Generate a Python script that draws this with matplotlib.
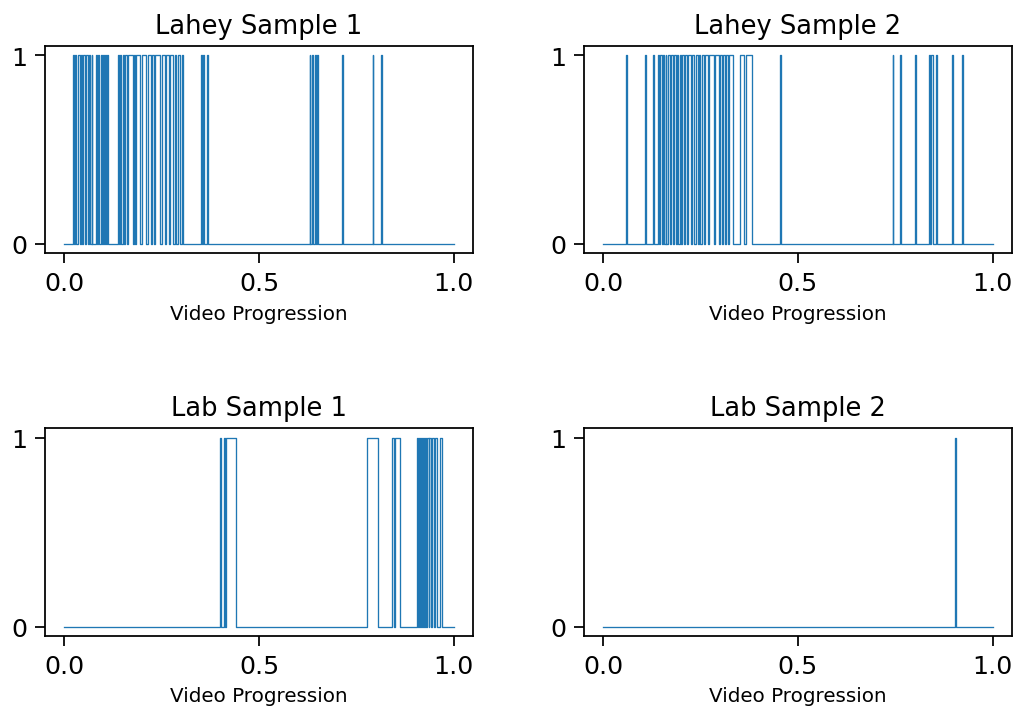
import matplotlib
matplotlib.use("Agg")
import matplotlib.pyplot as plt

# intervals (start, end) in video progression where the signal is 1
lahey1_on = [(0.022, 0.025), (0.028, 0.031), (0.036, 0.040), (0.043, 0.046), (0.049, 0.052),
             (0.055, 0.060), (0.063, 0.066), (0.070, 0.072), (0.080, 0.083), (0.087, 0.090),
             (0.093, 0.096), (0.099, 0.101), (0.103, 0.106), (0.109, 0.112), (0.137, 0.139),
             (0.143, 0.146), (0.150, 0.153), (0.156, 0.160), (0.163, 0.175), (0.178, 0.182),
             (0.185, 0.195), (0.199, 0.210), (0.214, 0.222), (0.226, 0.230), (0.234, 0.246),
             (0.250, 0.258), (0.262, 0.268), (0.272, 0.279), (0.284, 0.287), (0.293, 0.296),
             (0.302, 0.304), (0.350, 0.353), (0.356, 0.358), (0.367, 0.370), (0.630, 0.632),
             (0.636, 0.639), (0.643, 0.646), (0.649, 0.651), (0.714, 0.716), (0.792, 0.794),
             (0.814, 0.816)]
lahey2_on = [(0.058, 0.060), (0.107, 0.109), (0.127, 0.129), (0.140, 0.143), (0.146, 0.150),
             (0.153, 0.156), (0.160, 0.162), (0.166, 0.170), (0.174, 0.178), (0.182, 0.186),
             (0.190, 0.193), (0.197, 0.200), (0.203, 0.206), (0.210, 0.214), (0.218, 0.224),
             (0.229, 0.232), (0.238, 0.242), (0.246, 0.249), (0.254, 0.258), (0.262, 0.268),
             (0.272, 0.285), (0.288, 0.296), (0.300, 0.304), (0.308, 0.312), (0.316, 0.320),
             (0.324, 0.333), (0.350, 0.362), (0.366, 0.382), (0.454, 0.456), (0.743, 0.745),
             (0.763, 0.765), (0.802, 0.804), (0.836, 0.840), (0.842, 0.846), (0.855, 0.857),
             (0.896, 0.898), (0.922, 0.924)]
lab1_on = [(0.400, 0.403), (0.409, 0.412), (0.416, 0.441), (0.777, 0.805), (0.843, 0.846),
           (0.849, 0.862), (0.905, 0.908), (0.911, 0.914), (0.916, 0.919), (0.921, 0.925),
           (0.927, 0.930), (0.932, 0.936), (0.938, 0.941), (0.944, 0.950), (0.953, 0.957),
           (0.966, 0.969)]
lab2_on = [(0.903, 0.905)]

titles = ["Lahey Sample 1", "Lahey Sample 2", "Lab Sample 1", "Lab Sample 2"]
samples = [lahey1_on, lahey2_on, lab1_on, lab2_on]


def to_step(intervals):
    xs, ys = [0.0], [0]
    for a, b in intervals:
        xs += [a, a, b, b]
        ys += [0, 1, 1, 0]
    xs.append(1.0)
    ys.append(0)
    return xs, ys


fig, axes = plt.subplots(2, 2, figsize=(6.4, 4.47), dpi=158.6)
fig.subplots_adjust(left=0.0443, right=0.997, top=0.934, bottom=0.1016, wspace=0.259, hspace=0.843)

for ax, title, on in zip(axes.flat, titles, samples):
    xs, ys = to_step(on)
    ax.plot(xs, ys, color="tab:blue", linewidth=0.6)
    ax.set_title(title, fontsize=11.7)
    ax.set_xlabel("Video Progression", fontsize=9)
    ax.set_xticks([0.0, 0.5, 1.0])
    ax.set_yticks([0, 1])
    ax.tick_params(labelsize=11.5, length=4.5)

plt.savefig("out.png")
